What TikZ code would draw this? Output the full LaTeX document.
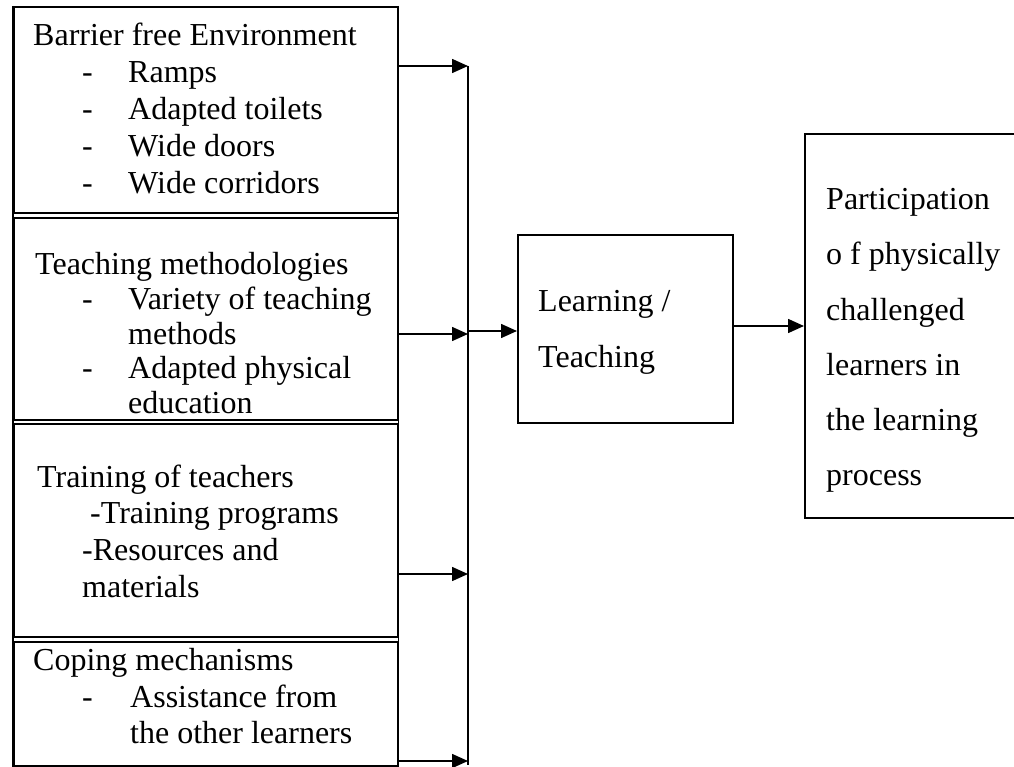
\documentclass[tikz,border=0pt]{standalone}
\usepackage{fontspec}
\setmainfont{Liberation Serif}
\usetikzlibrary{arrows.meta}
\tikzset{
  box/.style={draw, line width=1.6pt, rectangle, inner sep=0pt, anchor=north west},
  ln/.style={anchor=base west, inner sep=0pt, font=\fontsize{32}{37}\selectfont},
  arr/.style={line width=1.6pt, -{Triangle[length=16pt,width=14pt]}},
  bus/.style={line width=1.6pt}
}
\begin{document}
\begin{tikzpicture}[x=1pt,y=-1pt]
\useasboundingbox (0,0) rectangle (1014,767);
\clip (0,0) rectangle (1014,767);
% left column boxes
\node[box, minimum width=384pt, minimum height=206pt] (b1) at (13,6) {};
\node[box, minimum width=384pt, minimum height=202pt] (b2) at (13,217) {};
\node[box, minimum width=384pt, minimum height=213pt] (b3) at (13,423) {};
\node[box, minimum width=384pt, minimum height=124pt] (b4) at (13,641) {};
\draw[bus] (b1.north west) -- (b4.south west);
\draw[bus] (b1.north east) -- (b4.south east);
% middle and right boxes
\node[box, minimum width=215pt, minimum height=188pt] (lt) at (517,234) {};
\node[box, minimum width=240pt, minimum height=384pt] (pb) at (804,133) {};
% box 1 text
\node[ln] (t11) at (33,46) {Barrier free Environment};
\node[ln] (d12) at (82,83) {-};
\node[ln] (t12) at (128,83) {Ramps};
\node[ln] (d13) at (82,120) {-};
\node[ln] (t13) at (128,120) {Adapted toilets};
\node[ln] (d14) at (82,157) {-};
\node[ln] (t14) at (128,157) {Wide doors};
\node[ln] (d15) at (82,194) {-};
\node[ln] (t15) at (128,194) {Wide corridors};
% box 2 text
\node[ln] (t21) at (35,274) {Teaching methodologies};
\node[ln] (d22) at (82,309) {-};
\node[ln] (t22) at (128,309) {Variety of teaching};
\node[ln] (t23) at (128,344) {methods};
\node[ln] (d24) at (82,378) {-};
\node[ln] (t24) at (128,378) {Adapted physical};
\node[ln] (t25) at (128,413) {education};
% box 3 text
\node[ln] (t31) at (37,487) {Training of teachers};
\node[ln] (t32) at (90,523) {-Training programs};
\node[ln] (t33) at (82,560) {-Resources and};
\node[ln] (t34) at (82,597) {materials};
% box 4 text
\node[ln] (t41) at (33,670) {Coping mechanisms};
\node[ln] (d42) at (82,707) {-};
\node[ln] (t42) at (130,707) {Assistance from};
\node[ln] (t43) at (130,743) {the other learners};
% learning box text
\node[ln] (l1) at (538,311) {Learning /};
\node[ln] (l2) at (538,367) {Teaching};
% participation text
\node[ln] (p1) at (826,210) {Participation};
\node[ln] (p2) at (826,265) {o f physically};
\node[ln] (p3) at (826,320) {challenged};
\node[ln] (p4) at (826,375) {learners in};
\node[ln] (p5) at (826,430) {the learning};
\node[ln] (p6) at (826,485) {process};
% bus
\coordinate (j1) at (468,66);
\coordinate (j2) at (468,334);
\coordinate (j3) at (468,574);
\coordinate (j4) at (468,761);
\coordinate (jb) at (468,765);
\coordinate (jl) at (468,331);
\draw[bus] (j1) -- (jb);
\draw[arr] (b1.east |- j1) -- (j1);
\draw[arr] (b2.east |- j2) -- (j2);
\draw[arr] (b3.east |- j3) -- (j3);
\draw[arr] (b4.east |- j4) -- (j4);
\draw[arr] (jl) -- (lt.west |- jl);
\coordinate (lo) at (732,326);
\draw[arr] (lo) -- (pb.west |- lo);
\end{tikzpicture}
\end{document}
